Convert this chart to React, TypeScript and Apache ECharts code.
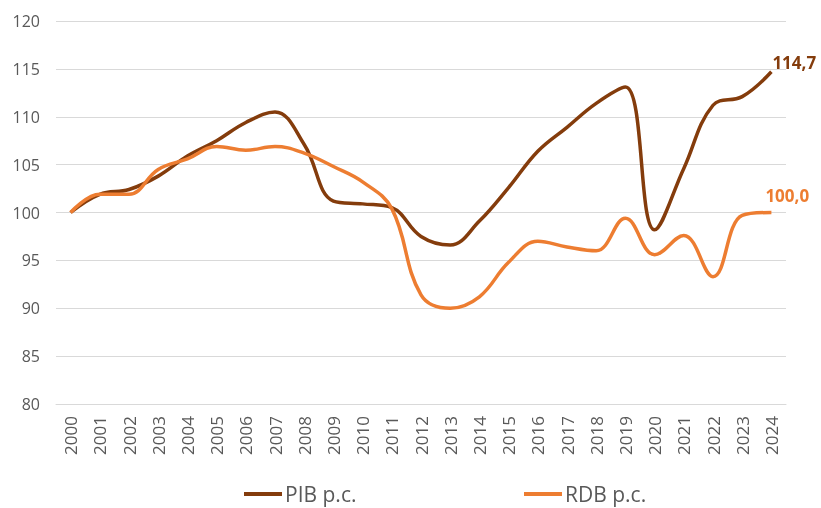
import React, { useEffect, useRef } from "react";
import * as echarts from "echarts";

const years = ["2000","2001","2002","2003","2004","2005","2006","2007","2008","2009","2010","2011","2012","2013","2014","2015","2016","2017","2018","2019","2020","2021","2022","2023","2024"];
const pib = [100, 101.9, 102.4, 103.8, 105.9, 107.5, 109.4, 110.5, 107.1, 101.2, 100.9, 100.5, 97.5, 96.6, 99.1, 102.6, 106.4, 108.9, 111.4, 113.1, 98.2, 104.6, 111.2, 112.1, 114.7];
const rdb = [100, 101.9, 101.9, 104.5, 105.6, 106.9, 106.5, 106.9, 106.2, 104.8, 103.2, 100.4, 91.4, 90.0, 91.2, 94.8, 97.0, 96.4, 96.0, 99.4, 95.6, 97.6, 93.3, 99.7, 100.0];
const yTicks = { min: 80, max: 120, interval: 5 };
const seriesNames = ["PIB p.c.", "RDB p.c."];
const colors = ["#843C0C", "#ED7D31"];

const FONT = "Open Sans";

export default function App() {
  const ref = useRef<HTMLDivElement>(null);
  useEffect(() => {
    const chart = echarts.init(ref.current!, null, { renderer: "svg" });
    const fmt = (p: any) => Number(p.value).toFixed(1).replace(".", ",");
    const legendBase = {
      top: 483,
      itemWidth: 38,
      itemHeight: 4,
      itemGap: 0,
      icon: "rect",
      padding: 0,
      textStyle: { fontSize: 21, lineHeight: 22, color: "#595959", fontFamily: FONT, padding: [0, 0, 0, -2] },
    };
    chart.setOption({
      animation: false,
      textStyle: { fontFamily: FONT },
      grid: { left: 56, right: 35, top: 21, bottom: 104 },
      legend: [
        { ...legendBase, left: 244, data: [seriesNames[0]] },
        { ...legendBase, left: 524, data: [seriesNames[1]] },
      ],
      xAxis: {
        type: "category",
        data: years,
        boundaryGap: true,
        axisLine: { show: true, lineStyle: { color: "#d9d9d9", width: 1 } },
        axisTick: { show: false },
        axisLabel: { rotate: 90, fontSize: 17, color: "#595959", margin: 12, fontFamily: FONT },
      },
      yAxis: {
        type: "value",
        min: yTicks.min,
        max: yTicks.max,
        interval: yTicks.interval,
        axisLine: { show: false },
        axisTick: { show: false },
        splitLine: { lineStyle: { color: "#d9d9d9", width: 1 } },
        axisLabel: { fontSize: 16, color: "#595959", margin: 16, fontFamily: FONT },
      },
      series: [
        {
          name: seriesNames[0],
          type: "line",
          data: pib,
          smooth: 0.4,
          symbol: "none",
          lineStyle: { color: colors[0], width: 3.5 },
          itemStyle: { color: colors[0] },
          endLabel: {
            show: true,
            formatter: fmt,
            color: colors[0],
            fontWeight: "bold",
            fontSize: 17,
            fontFamily: FONT,
            distance: 1,
            offset: [0, -9],
          },
        },
        {
          name: seriesNames[1],
          type: "line",
          data: rdb,
          smooth: 0.4,
          symbol: "none",
          lineStyle: { color: colors[1], width: 3.5 },
          itemStyle: { color: colors[1] },
          endLabel: {
            show: true,
            formatter: fmt,
            color: colors[1],
            fontWeight: "bold",
            fontSize: 17,
            fontFamily: FONT,
            distance: 1,
            offset: [-7, -17],
          },
        },
      ],
    });
    return () => chart.dispose();
  }, []);
  return <div ref={ref} style={{ position: "fixed", left: 0, top: 0, width: 821, height: 508 }} />;
}
